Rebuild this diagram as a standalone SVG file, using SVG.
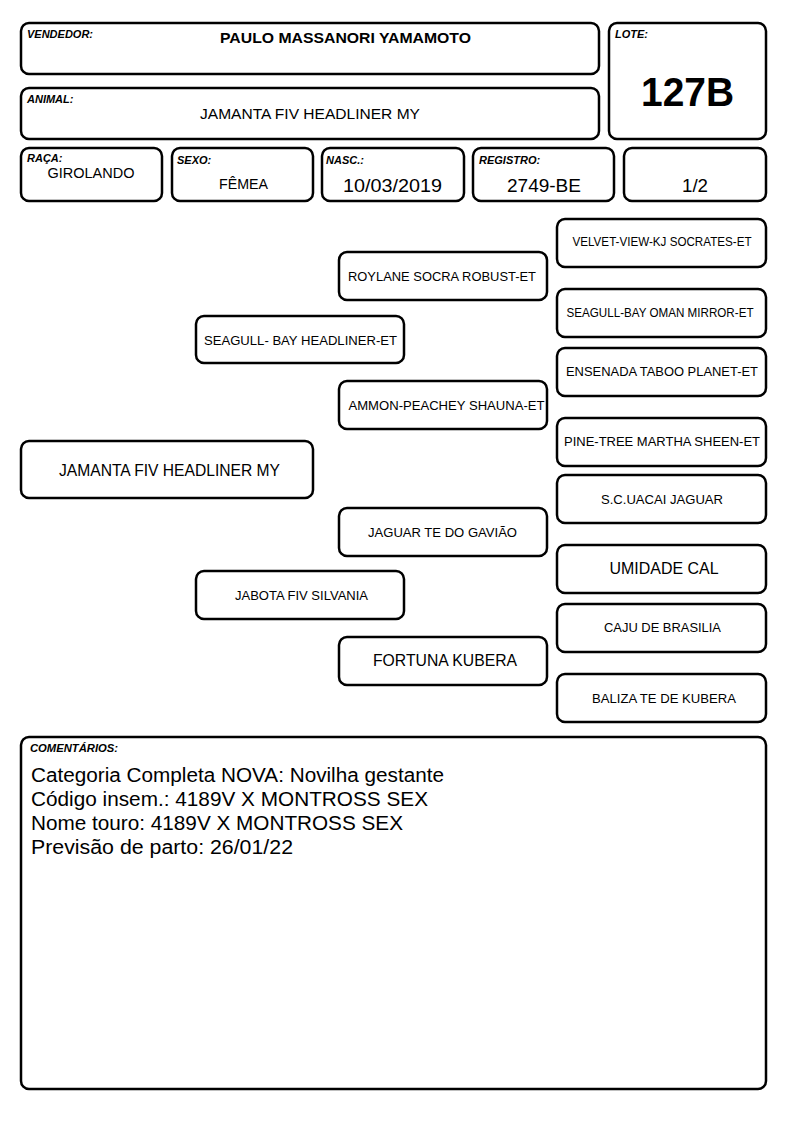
<svg xmlns="http://www.w3.org/2000/svg" width="794" height="1123" viewBox="0 0 794 1123">
<style>
.b{fill:#fff;stroke:#000;stroke-width:2.5}
.l{font-family:"Liberation Sans",Arial,sans-serif;font-size:11px;font-weight:bold;font-style:italic}
.t{font-family:"Liberation Sans",Arial,sans-serif;text-anchor:middle}
.p{font-family:"Liberation Sans",Arial,sans-serif;font-size:13.5px;text-anchor:middle}
.c{font-family:"Liberation Sans",Arial,sans-serif;font-size:19.5px}
</style>
<rect width="794" height="1123" fill="#fff"/>
<g id="vendedor"><rect class="b" x="21" y="23" width="578" height="51" rx="8"/><text class="l" x="27" y="38" textLength="66" lengthAdjust="spacingAndGlyphs">VENDEDOR:</text><text class="t" x="345.5" y="43" font-size="15.5" font-weight="bold" textLength="251" lengthAdjust="spacingAndGlyphs">PAULO MASSANORI YAMAMOTO</text></g>
<g id="animal"><rect class="b" x="21" y="88" width="578" height="51" rx="8"/><text class="l" x="27" y="103">ANIMAL:</text><text class="t" x="310" y="119" font-size="15.5" textLength="220" lengthAdjust="spacingAndGlyphs">JAMANTA FIV HEADLINER MY</text></g>
<g id="lote"><rect class="b" x="609" y="23" width="157" height="116" rx="8"/><text class="l" x="615" y="38">LOTE:</text><text class="t" x="687.5" y="106" font-size="41" font-weight="bold" textLength="93" lengthAdjust="spacingAndGlyphs">127B</text></g>
<g id="raca"><rect class="b" x="21" y="148" width="141" height="53" rx="8"/><text class="l" x="27" y="162">RAÇA:</text><text class="t" x="91" y="178" font-size="15" textLength="87" lengthAdjust="spacingAndGlyphs">GIROLANDO</text></g>
<g id="sexo"><rect class="b" x="172" y="148" width="141" height="53" rx="8"/><text class="l" x="177" y="164">SEXO:</text><text class="t" x="243.5" y="189" font-size="15" textLength="49" lengthAdjust="spacingAndGlyphs">FÊMEA</text></g>
<g id="nasc"><rect class="b" x="322" y="148" width="142" height="53" rx="8"/><text class="l" x="326" y="164">NASC.:</text><text class="t" x="392.5" y="192" font-size="18" textLength="99" lengthAdjust="spacingAndGlyphs">10/03/2019</text></g>
<g id="registro"><rect class="b" x="473" y="148" width="141" height="53" rx="8"/><text class="l" x="479" y="164">REGISTRO:</text><text class="t" x="544" y="192" font-size="18" textLength="74" lengthAdjust="spacingAndGlyphs">2749-BE</text></g>
<g id="fracao"><rect class="b" x="624" y="148" width="142" height="53" rx="8"/><text class="t" x="695" y="192" font-size="18" textLength="26" lengthAdjust="spacingAndGlyphs">1/2</text></g>
<g id="connectors"></g>
<g id="n-animal"><rect class="b" x="21" y="441" width="292" height="57" rx="8"/><text class="t" x="169.5" y="476" font-size="17" textLength="221" lengthAdjust="spacingAndGlyphs">JAMANTA FIV HEADLINER MY</text></g>
<g id="n-pai"><rect class="b" x="196" y="316" width="208" height="47" rx="8"/><text class="p" x="300.5" y="345" textLength="193" lengthAdjust="spacingAndGlyphs">SEAGULL- BAY HEADLINER-ET</text></g>
<g id="n-mae"><rect class="b" x="196" y="571" width="208" height="48" rx="8"/><text class="p" x="301.5" y="600" textLength="133" lengthAdjust="spacingAndGlyphs">JABOTA FIV SILVANIA</text></g>
<g id="n-avo1"><rect class="b" x="339" y="252" width="208" height="48" rx="8"/><text class="p" x="442" y="281" textLength="188" lengthAdjust="spacingAndGlyphs">ROYLANE SOCRA ROBUST-ET</text></g>
<g id="n-avo2"><rect class="b" x="339" y="381" width="208" height="48" rx="8"/><text class="p" x="446.5" y="410" textLength="196" lengthAdjust="spacingAndGlyphs">AMMON-PEACHEY SHAUNA-ET</text></g>
<g id="n-avo3"><rect class="b" x="339" y="508" width="208" height="48" rx="8"/><text class="p" x="442.5" y="537" textLength="149" lengthAdjust="spacingAndGlyphs">JAGUAR TE DO GAVIÃO</text></g>
<g id="n-avo4"><rect class="b" x="339" y="637" width="208" height="48" rx="8"/><text class="t" x="445" y="666" font-size="17" textLength="144" lengthAdjust="spacingAndGlyphs">FORTUNA KUBERA</text></g>
<g id="n-b1"><rect class="b" x="557" y="219" width="209" height="48" rx="8"/><text class="p" x="662" y="246" textLength="179" lengthAdjust="spacingAndGlyphs">VELVET-VIEW-KJ SOCRATES-ET</text></g>
<g id="n-b2"><rect class="b" x="557" y="289" width="209" height="48" rx="8"/><text class="p" x="660" y="317" textLength="187" lengthAdjust="spacingAndGlyphs">SEAGULL-BAY OMAN MIRROR-ET</text></g>
<g id="n-b3"><rect class="b" x="557" y="348" width="209" height="48" rx="8"/><text class="p" x="662" y="376" textLength="192" lengthAdjust="spacingAndGlyphs">ENSENADA TABOO PLANET-ET</text></g>
<g id="n-b4"><rect class="b" x="557" y="418" width="209" height="48" rx="8"/><text class="p" x="662" y="446" textLength="196" lengthAdjust="spacingAndGlyphs">PINE-TREE MARTHA SHEEN-ET</text></g>
<g id="n-b5"><rect class="b" x="557" y="475" width="209" height="48" rx="8"/><text class="p" x="662" y="504" textLength="122" lengthAdjust="spacingAndGlyphs">S.C.UACAI JAGUAR</text></g>
<g id="n-b6"><rect class="b" x="557" y="545" width="209" height="48" rx="8"/><text class="t" x="664" y="574" font-size="17" textLength="109" lengthAdjust="spacingAndGlyphs">UMIDADE CAL</text></g>
<g id="n-b7"><rect class="b" x="557" y="604" width="209" height="48" rx="8"/><text class="p" x="662.5" y="632" textLength="117" lengthAdjust="spacingAndGlyphs">CAJU DE BRASILIA</text></g>
<g id="n-b8"><rect class="b" x="557" y="674" width="209" height="48" rx="8"/><text class="p" x="664" y="703" textLength="144" lengthAdjust="spacingAndGlyphs">BALIZA TE DE KUBERA</text></g>
<g id="comentarios"><rect class="b" x="21" y="737" width="745" height="352" rx="8"/><text class="l" x="30" y="752" textLength="88" lengthAdjust="spacingAndGlyphs">COMENTÁRIOS:</text>
<text class="c" x="31" y="782" textLength="413" lengthAdjust="spacingAndGlyphs">Categoria Completa NOVA: Novilha gestante</text>
<text class="c" x="31" y="806" textLength="397" lengthAdjust="spacingAndGlyphs">Código insem.: 4189V X MONTROSS SEX</text>
<text class="c" x="31" y="830" textLength="372" lengthAdjust="spacingAndGlyphs">Nome touro: 4189V X MONTROSS SEX</text>
<text class="c" x="31" y="854" textLength="262" lengthAdjust="spacingAndGlyphs">Previsão de parto: 26/01/22</text></g>
</svg>
